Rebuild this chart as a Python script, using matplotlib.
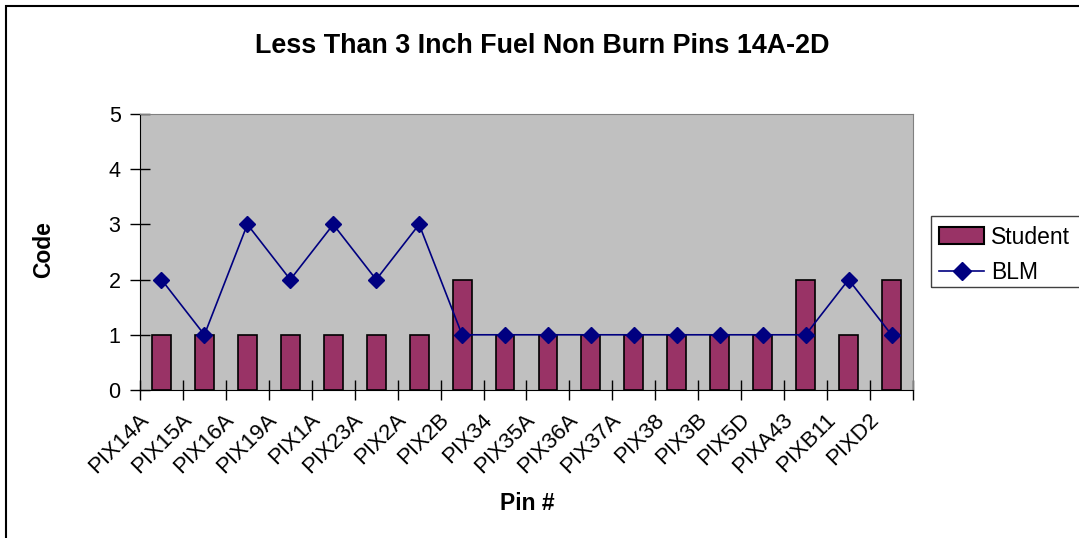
import numpy as np
import matplotlib
matplotlib.use("Agg")
import matplotlib.pyplot as plt
from matplotlib.patches import Rectangle, Patch
from matplotlib.lines import Line2D
from matplotlib.transforms import Bbox, offset_copy

plt.rcParams["font.family"] = ["Liberation Sans", "DejaVu Sans"]

pins = ["PIX14A", "PIX15A", "PIX16A", "PIX19A", "PIX1A", "PIX23A", "PIX2A",
        "PIX2B", "PIX34", "PIX35A", "PIX36A", "PIX37A", "PIX38", "PIX3B",
        "PIX5D", "PIXA43", "PIXB11", "PIXD2"]
student = [1, 1, 1, 1, 1, 1, 1, 2, 1, 1, 1, 1, 1, 1, 1, 2, 1, 2]
blm = [2, 1, 3, 2, 3, 2, 3, 1, 1, 1, 1, 1, 1, 1, 1, 1, 2, 1]

W, H = 1079, 538
fig = plt.figure(figsize=(W / 100, H / 100), dpi=100)
ax = fig.add_axes([140 / W, 1 - 390 / H, (913 - 140) / W, (390 - 114) / H])
ax.set_facecolor("#c0c0c0")

x = np.arange(len(pins))
ax.bar(x, student, width=0.44, color="#993366", edgecolor="black", linewidth=1.2, zorder=2)
ax.plot(x, blm, color="#000080", linewidth=1.2, marker="D", markersize=8,
        markerfacecolor="#000080", markeredgecolor="#000080", zorder=3)

ax.set_xlim(-0.5, len(pins) - 0.5)
ax.set_ylim(0, 5)
ax.set_yticks(range(0, 6))
ax.tick_params(axis="y", direction="inout", length=14, width=1, labelsize=15.5, pad=7)

# ticks at category boundaries, labels at centres
ax.set_xticks(np.arange(len(pins) + 1) - 0.5)
ax.set_xticklabels([])
ax.tick_params(axis="x", which="major", direction="inout", length=14, width=1)
ax.set_xticks(x, minor=True)
ax.set_xticklabels(pins, minor=True, rotation=45, ha="right", rotation_mode="anchor", fontsize=16)
ax.tick_params(axis="x", which="minor", length=0, pad=14)
for lbl in ax.get_xticklabels(minor=True):
    lbl.set_transform(offset_copy(lbl.get_transform(), fig=fig, x=-17, y=0, units="points"))

for s in ["top", "right"]:
    ax.spines[s].set_color("#808080")
for s in ["left", "bottom"]:
    ax.spines[s].set_color("black")

fig.text(542 / W, 1 - 46 / H, "Less Than 3 Inch Fuel Non Burn Pins 14A-2D",
         ha="center", va="center", fontsize=19.4, fontweight="bold")
fig.text(527 / W, 1 - 504 / H, "Pin #", ha="center", va="center", fontsize=16.5, fontweight="bold")
ylab = fig.text(44 / W, 1 - 250 / H, "Code", ha="center", va="center", rotation=90,
                fontsize=16.5, fontweight="bold")
ylab.set_clip_box(Bbox([[0, 0], [W, H - 222]]))
ylab.set_clip_on(True)

handles = [Patch(facecolor="#993366", edgecolor="black", linewidth=1.5),
           Line2D([], [], color="#000080", marker="D", markersize=9, linewidth=1.2)]
leg = fig.legend(handles, ["Student", "BLM"], loc="upper left",
                 bbox_to_anchor=(934 / W, 1 - 221 / H), fontsize=16.5,
                 frameon=False, borderpad=0.2, borderaxespad=0, handlelength=2.0,
                 handleheight=0.75, handletextpad=0.3, labelspacing=0.55)

fig.patches.append(Rectangle((931 / W, 1 - 287 / H), 0.2, 71 / H, transform=fig.transFigure,
                             fill=False, edgecolor="#404040", linewidth=1))
fig.patches.append(Rectangle((6 / W, -0.1), 1.2, 1 - 6 / H + 0.1, transform=fig.transFigure,
                             fill=False, edgecolor="black", linewidth=1.5))

fig.savefig("out.png", dpi=100)
